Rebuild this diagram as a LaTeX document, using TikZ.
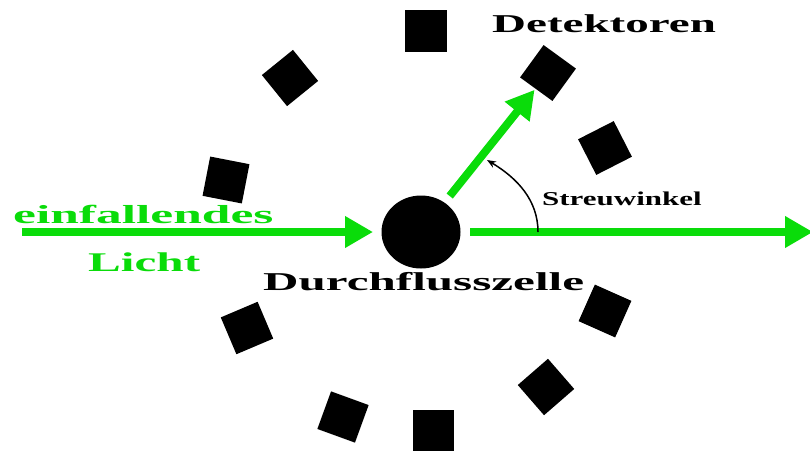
\documentclass[tikz,border=0pt]{standalone}
\usepackage{fontspec}
\setmainfont{Liberation Serif}
\usetikzlibrary{arrows.meta,shapes.geometric}
\definecolor{ray}{RGB}{10,220,10}
\tikzset{
  det/.style={rectangle, fill=black, minimum size=40pt, inner sep=0pt},
  raypath/.style={draw=ray, line width=8pt, -{Triangle[length=28pt,width=30pt]}},
  lbl/.style={inner sep=0pt, anchor=base west, font=\bfseries},
}
\begin{document}
\begin{tikzpicture}[x=1pt,y=-1pt]
\useasboundingbox (0,0) rectangle (810,450);
% flow cell
\node[ellipse, fill=black, minimum width=79pt, minimum height=73pt, inner sep=0pt] (cell) at (421,232) {};
% detectors
\node[det, minimum size=42pt] (d1) at (426,31) {};
\node[det, rotate=54] (d2) at (548,73) {};
\node[det, rotate=27] (d3) at (605,148) {};
\node[det, rotate=39] (d4) at (290,78) {};
\node[det, rotate=-11] (d5) at (226,180) {};
\node[det, rotate=23] (d6) at (247,328) {};
\node[det, rotate=-20] (d7) at (343,417) {};
\node[det, minimum size=41pt] (d8) at (433,430) {};
\node[det, rotate=41] (d9) at (546,387) {};
\node[det, rotate=-24] (d10) at (605,311) {};
% rays
\coordinate (src) at (22,232);
\coordinate (out) at (813,232);
\draw[raypath, shorten >=48pt] (src) -- (cell.center);
\draw[raypath, shorten <=49pt] (cell.center) -- (out);
\draw[raypath, shorten <=46pt, shorten >=21.5pt] (cell.center) -- (d2.center);
% scattering angle
\coordinate (angS) at (538,232);
\coordinate (angE) at (487,160);
\draw[line width=1.5pt, -{Stealth[length=9pt,width=7pt]}] (angS) .. controls (538,200) and (517,178) .. (angE);
% labels
\node[lbl] (tdet) at (492,32) {\fontsize{25.7}{30}\selectfont\scalebox{1.83}[1]{Detektoren}};
\node[lbl] (tcell) at (263,290) {\fontsize{25.7}{30}\selectfont\scalebox{1.91}[1]{Durchflusszelle}};
\node[lbl, text=ray] (tin1) at (13,223) {\fontsize{26}{30}\selectfont\scalebox{1.98}[1]{einfallendes}};
\node[lbl, text=ray] (tin2) at (88,271) {\fontsize{27}{30}\selectfont\scalebox{1.82}[1]{Licht}};
\node[lbl] (tang) at (542,205) {\fontsize{19.6}{24}\selectfont\scalebox{1.58}[1]{Streuwinkel}};
\end{tikzpicture}
\end{document}
